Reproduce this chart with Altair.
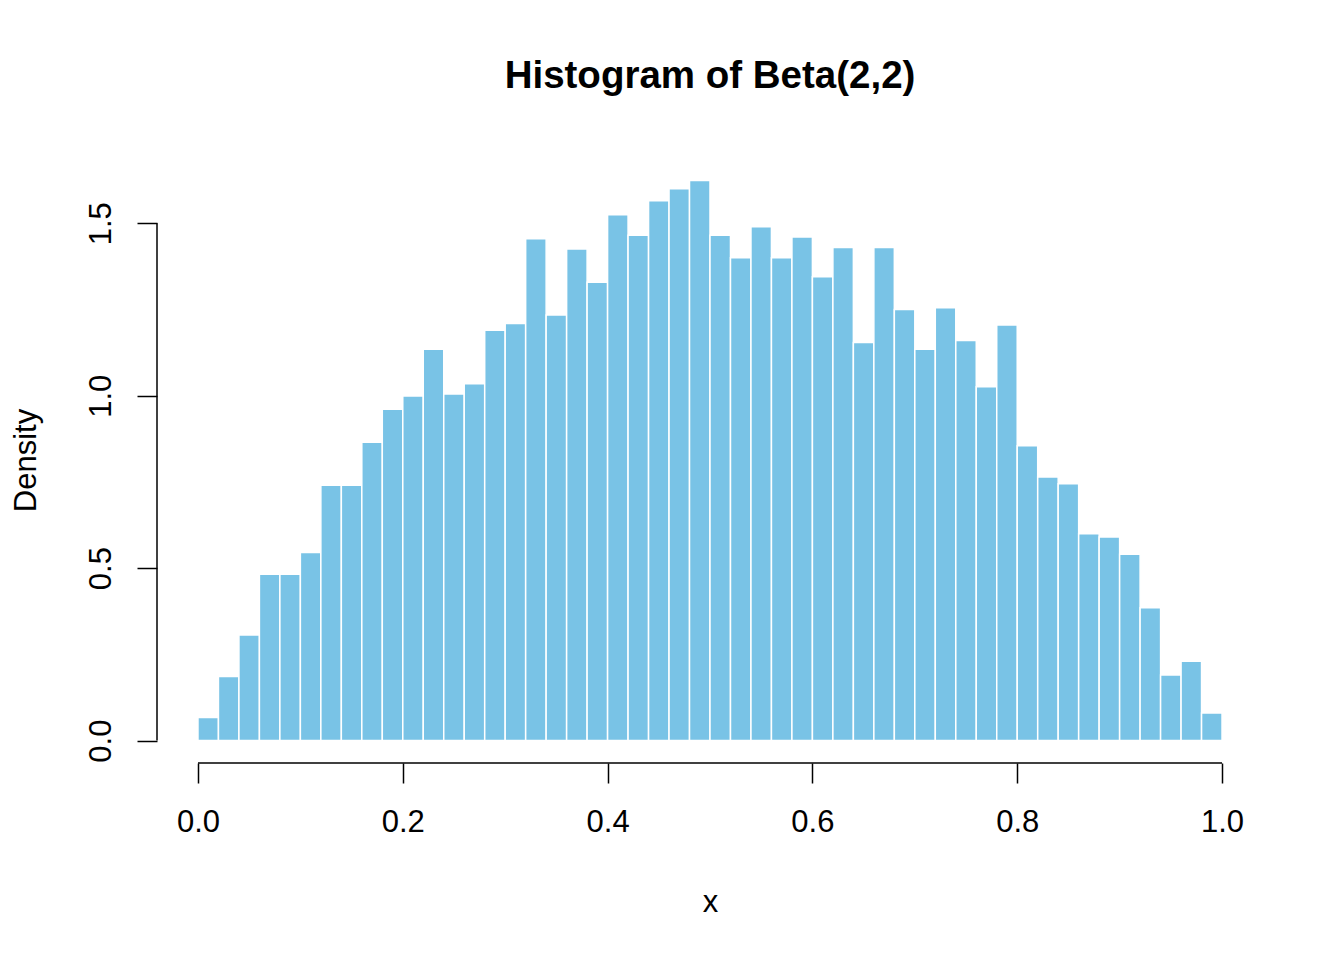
import altair as alt
import pandas as pd

# Histogram bins (width 0.02) and densities
bin_width = 0.02
bin_start = [round(i * bin_width, 2) for i in range(50)]
density = [
    0.067, 0.186, 0.306, 0.482, 0.482, 0.545, 0.740, 0.740, 0.865, 0.961,
    0.999, 1.135, 1.005, 1.035, 1.190, 1.209, 1.455, 1.234, 1.425, 1.329,
    1.525, 1.465, 1.565, 1.600, 1.624, 1.465, 1.400, 1.490, 1.400, 1.460,
    1.345, 1.430, 1.154, 1.430, 1.250, 1.135, 1.255, 1.160, 1.026, 1.205,
    0.855, 0.764, 0.745, 0.600, 0.590, 0.540, 0.385, 0.190, 0.230, 0.080,
]
x_ticks = [0.0, 0.2, 0.4, 0.6, 0.8, 1.0]
y_ticks = [0.0, 0.5, 1.0, 1.5]

df = pd.DataFrame({
    "start": bin_start,
    "end": [round(s + bin_width, 2) for s in bin_start],
    "density": density,
})
one = pd.DataFrame({"a": [0]})

FONT = "Liberation Sans"
W, H = 1106, 607

xscale = alt.Scale(domain=[-0.04, 1.04], nice=False, zero=False)
yscale = alt.Scale(domain=[-0.065, 1.695], nice=False, zero=False)

bars = alt.Chart(df).mark_rect(
    color="#79C3E6", stroke="white", strokeWidth=1.5
).encode(
    x=alt.X("start:Q", scale=xscale, title="x",
            axis=alt.Axis(values=x_ticks, format=".1f", domain=False, grid=False,
                          tickSize=20, tickWidth=1.5, tickColor="black",
                          labelFontSize=31, labelFont=FONT, labelColor="black",
                          labelPadding=24, labelFlush=False,
                          titleFontSize=31, titleFont=FONT, titleColor="black",
                          titleFontWeight="normal", titleBaseline="alphabetic",
                          titleY=148, titleX=553)),
    x2="end:Q",
    y=alt.Y("density:Q", scale=yscale, title="Density",
            axis=alt.Axis(values=y_ticks, format=".1f", domain=False, grid=False,
                          tickSize=20, tickWidth=1.5, tickColor="black",
                          labelFontSize=31, labelFont=FONT, labelColor="black",
                          labelAngle=270, labelAlign="center",
                          labelBaseline="alphabetic", labelPadding=27,
                          titleFontSize=31, titleFont=FONT, titleColor="black",
                          titleFontWeight="normal", titleAngle=270,
                          titleAlign="center", titleBaseline="alphabetic",
                          titleX=-122, titleY=304)),
    y2=alt.datum(0),
)

x_line = alt.Chart(one).mark_rule(color="black", strokeWidth=1.5).encode(
    x=alt.datum(0.0), x2=alt.datum(1.0), y=alt.value(H)
)
y_line = alt.Chart(one).mark_rule(color="black", strokeWidth=1.5).encode(
    y=alt.datum(0.0), y2=alt.datum(1.5), x=alt.value(0)
)

chart = alt.layer(bars, x_line, y_line).properties(
    width=W, height=H,
    title=alt.TitleParams("Histogram of Beta(2,2)", font=FONT, fontSize=38.5,
                          fontWeight="bold", color="black", anchor="middle",
                          baseline="alphabetic", offset=30),
    autosize="none",
    background="white",
    padding={"left": 149, "top": 148, "right": 73, "bottom": 189},
).configure_view(strokeWidth=0)

chart.save("out.html", embed_options={"renderer": "svg", "actions": False})
